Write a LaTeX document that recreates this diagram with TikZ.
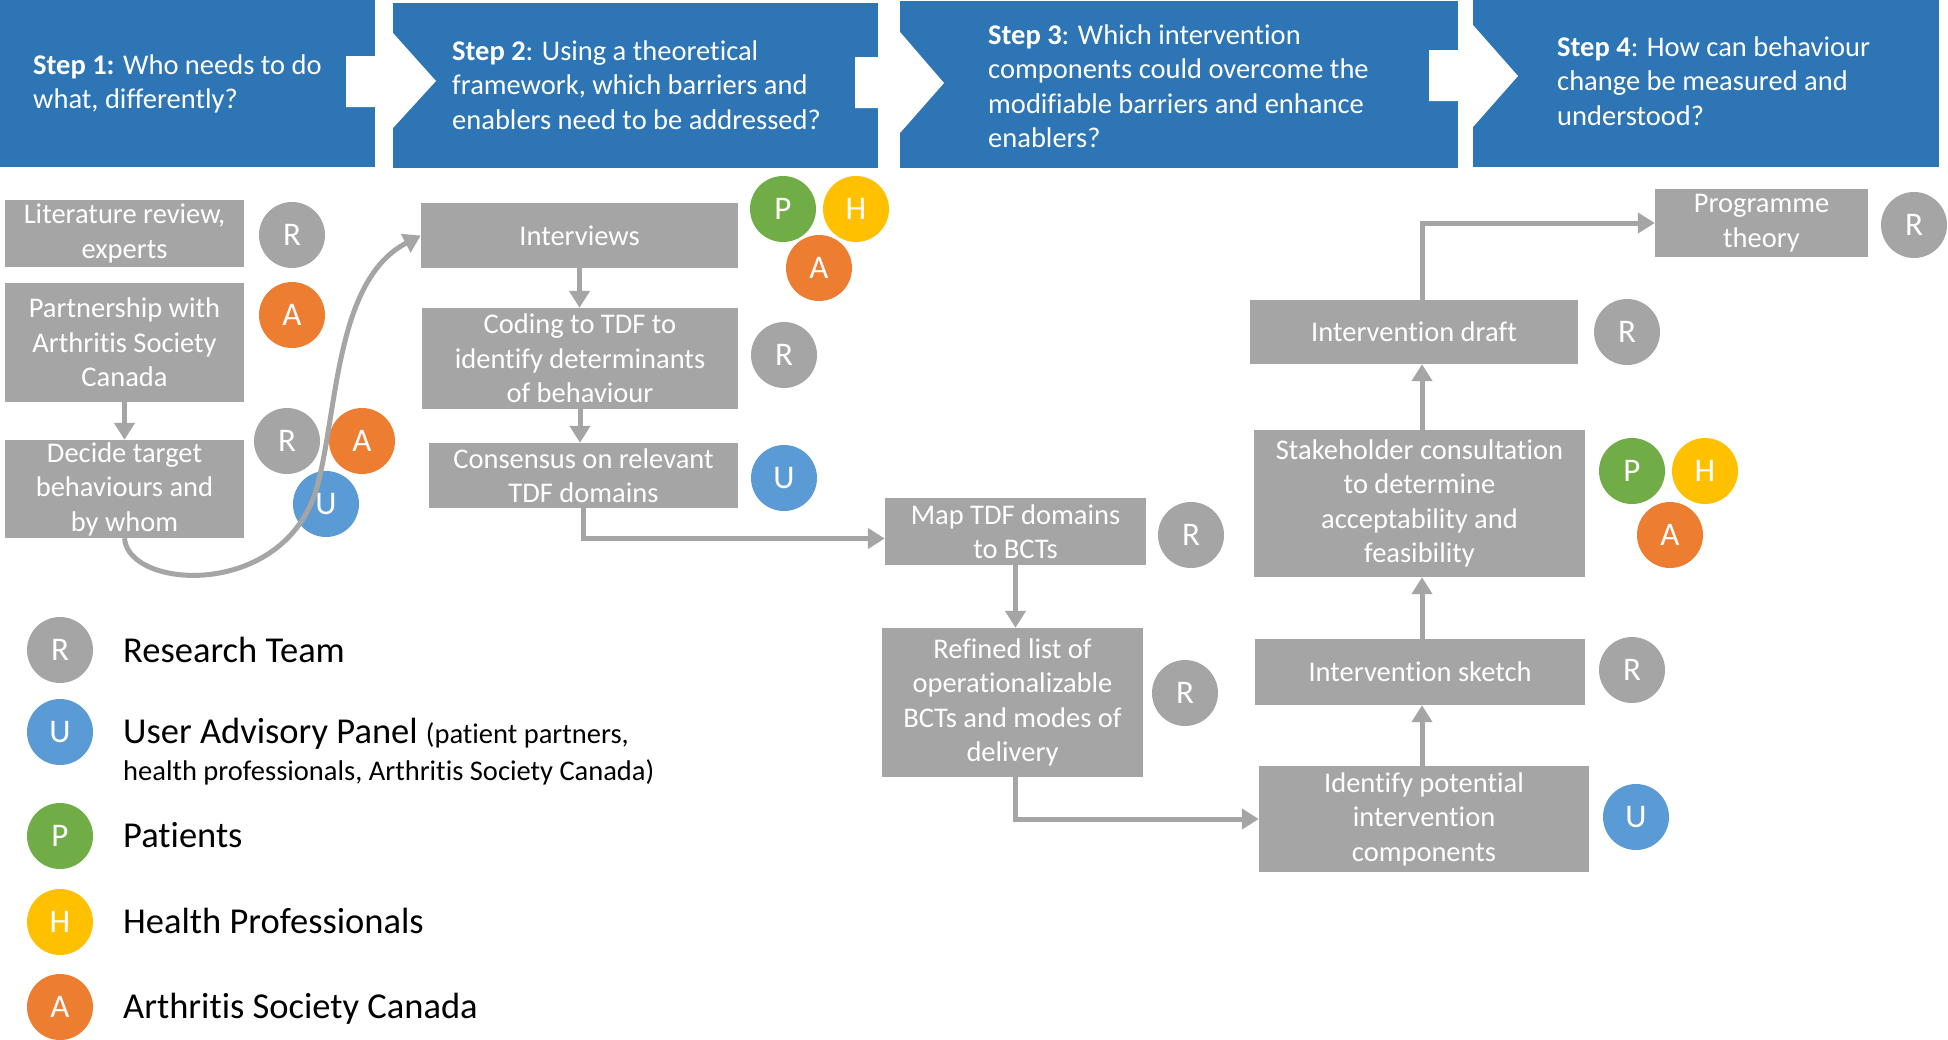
\documentclass[tikz,border=0pt]{standalone}
\usepackage{fontspec}
\setmainfont{Carlito}[Ligatures=CommonOff]
\usetikzlibrary{arrows.meta}
\definecolor{hdr}{HTML}{2E75B6}
\definecolor{gbox}{HTML}{A5A5A5}
\definecolor{cR}{HTML}{A5A5A5}
\definecolor{cU}{HTML}{5B9BD5}
\definecolor{cP}{HTML}{70AD47}
\definecolor{cH}{HTML}{FFC000}
\definecolor{cA}{HTML}{ED7D31}
\begin{document}
\begin{tikzpicture}[x=1pt,y=-1pt,
  proc/.style={fill=gbox, text=white, inner sep=0pt, align=center, font=\fontsize{28.5}{34.5}\selectfont},
  role/.style={circle, fill=#1, text=white, minimum size=66pt, inner sep=0pt, font=\fontsize{33}{33}\selectfont},
  hdrtext/.style={text=white, anchor=west, align=left, inner sep=0pt, font=\fontsize{28.5}{34.5}\selectfont},
  conn/.style={draw=gbox, line width=5pt, -{Triangle[length=17pt,width=20pt]}},
  legbig/.style={anchor=base west, inner sep=0pt, font=\fontsize{36.5}{40}\selectfont},
  legsmall/.style={anchor=base west, inner sep=0pt, font=\fontsize{28.5}{34}\selectfont},
]
\useasboundingbox[fill=white] (0,0) rectangle (1948,1039);

% header bands
\fill[hdr] (0,0) rectangle (375,167);
\fill[hdr] (393,3) rectangle (878,168);
\fill[hdr] (900,1) rectangle (1458,168);
\fill[hdr] (1473,0) rectangle (1939,167);
\fill[white] (346,56) -- (393,56) -- (393,33) -- (436,81) -- (393,128) -- (393,107) -- (346,107) -- cycle;
\fill[white] (855,57) -- (900,57) -- (900,32) -- (944,83) -- (900,133) -- (900,108) -- (855,108) -- cycle;
\fill[white] (1429,50) -- (1473,50) -- (1473,25) -- (1518,76) -- (1473,127) -- (1473,101) -- (1429,101) -- cycle;

\node[hdrtext] (s1) at (33,84) {\textbf{Step 1:} Who needs to do\\what, differently?};
\node[hdrtext] (s2) at (452,85) {\textbf{Step 2}: Using a theoretical\\framework, which barriers and\\enablers need to be addressed?};
\node[hdrtext] (s3) at (988,86) {\textbf{Step 3}: Which intervention\\components could overcome the\\modifiable barriers and enhance\\enablers?};
\node[hdrtext] (s4) at (1557,81) {\textbf{Step 4}: How can behaviour\\change be measured and\\understood?};

% process boxes
\node[proc, minimum width=239pt, minimum height=67pt] (lit) at (124.5,233.5) {Literature review,\\experts};
\node[proc, minimum width=239pt, minimum height=119pt] (part) at (124.5,342.5) {Partnership with\\Arthritis Society\\Canada};
\node[proc, minimum width=239pt, minimum height=98pt] (decide) at (124.5,489) {Decide target\\behaviours and\\by whom};
\node[proc, minimum width=317pt, minimum height=65pt] (intv) at (579.5,235.5) {Interviews};
\node[proc, minimum width=316pt, minimum height=101pt] (coding) at (580,358.5) {Coding to TDF to\\identify determinants\\of behaviour};
\node[proc, minimum width=309pt, minimum height=65pt] (cons) at (583.5,475.5) {Consensus on relevant\\TDF domains};
\node[proc, minimum width=261pt, minimum height=67pt] (map) at (1015.5,531.5) {Map TDF domains\\to BCTs};
\node[proc, minimum width=261pt, minimum height=149pt] (refined) at (1012.5,702.5) {Refined list of\\operationalizable\\BCTs and modes of\\delivery};
\node[proc, minimum width=330pt, minimum height=106pt] (ident) at (1424,819) {Identify potential\\intervention\\components};
\node[proc, minimum width=330pt, minimum height=66pt] (sketch) at (1420,672) {Intervention sketch};
\node[proc, minimum width=331pt, minimum height=147pt] (stake) at (1419.5,503.5) {Stakeholder consultation\\to determine\\acceptability and\\feasibility};
\node[proc, minimum width=328pt, minimum height=64pt] (draft) at (1414,332) {Intervention draft};
\node[proc, minimum width=213pt, minimum height=68pt] (prog) at (1761.5,223) {Programme\\theory};

% role circles
\node[role=cR] (litR) at (292,235) {R};
\node[role=cA] (partA) at (292,315) {A};
\node[role=cR] (decR) at (287,441) {R};
\node[role=cA] (decA) at (362,441) {A};
\node[role=cU] (decU) at (326,504) {U};
\node[role=cP] (intP) at (783,209) {P};
\node[role=cH] (intH) at (856,209) {H};
\node[role=cA] (intA) at (819,268) {A};
\node[role=cR] (codR) at (784,355) {R};
\node[role=cU] (conU) at (784,478) {U};
\node[role=cR] (mapR) at (1191,535) {R};
\node[role=cR] (refR) at (1185,693) {R};
\node[role=cU] (ideU) at (1636,817) {U};
\node[role=cR] (skeR) at (1632,670) {R};
\node[role=cP] (staP) at (1632,471) {P};
\node[role=cH] (staH) at (1705,471) {H};
\node[role=cA] (staA) at (1670,535) {A};
\node[role=cR] (draR) at (1627,332) {R};
\node[role=cR] (proR) at (1914,225) {R};

% connectors
\coordinate (colx) at (1422,0);
\draw[conn] (part) -- (decide);
\draw[conn] (intv.south) -- (intv.south |- coding.north);
\draw[conn] (coding.south) -- (coding.south |- cons.north);
\draw[conn] (cons.south) |- ([yshift=-7pt]map.west);
\draw[conn] (map.south) -- (map.south |- refined.north);
\draw[conn] ([xshift=3pt]refined.south) |- (ident.west);
\draw[conn] (colx |- ident.north) -- (colx |- sketch.south);
\draw[conn] (colx |- sketch.north) -- (colx |- stake.south);
\draw[conn] (colx |- stake.north) -- (colx |- draft.south);
\draw[conn] (colx |- draft.north) |- (prog.west);
\draw[conn] (decide.south) .. controls (128,590) and (285,600) .. (317,487) .. controls (338,410) and (335,280) .. (intv.west);

% legend
\node[role=cR] (legR) at (60,650) {R};
\node[legbig] (legRt) at (123,662) {Research Team};
\node[role=cU] (legU) at (60,732) {U};
\node[legbig] (legUt) at (123,743) {User Advisory Panel {\fontsize{28.5}{34}\selectfont(patient partners,}};
\node[legsmall] (legUt2) at (123,780) {health professionals, Arthritis Society Canada)};
\node[role=cP] (legP) at (60,836) {P};
\node[legbig] (legPt) at (123,847) {Patients};
\node[role=cH] (legH) at (60,922) {H};
\node[legbig] (legHt) at (123,933) {Health Professionals};
\node[role=cA] (legA) at (60,1007) {A};
\node[legbig] (legAt) at (123,1018) {Arthritis Society Canada};
\end{tikzpicture}
\end{document}
